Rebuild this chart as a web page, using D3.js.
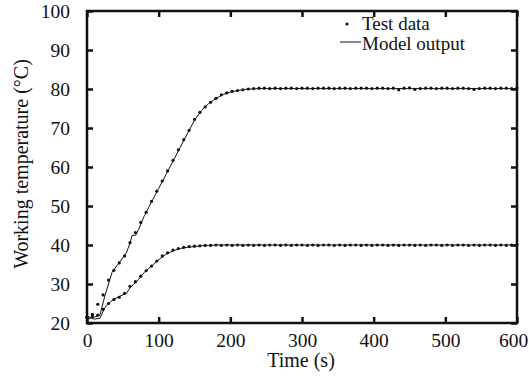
<!DOCTYPE html>
<html>
<head>
<meta charset="utf-8">
<script src="https://cdn.jsdelivr.net/npm/d3@7"></script>
<style>
  body { margin: 0; background: #fff; }
  svg text { font-family: 'Liberation Serif', serif !important; }
</style>
</head>
<body>
<svg id="chart" width="529" height="381"></svg>
<script>
const serif = `'Liberation Serif', serif`;

// sample times of the test data (s)
const testTime = [0, 7.5, 15, 22.5, 30, 37.5, 45, 52.5, 60, 67.5, 75, 82.5, 90, 97.5, 105, 112.5,
  120, 127.5, 135, 142.5, 150, 157.5, 165, 172.5, 180, 187.5, 195, 202.5, 210, 217.5, 225, 232.5,
  240, 247.5, 255, 262.5, 270, 277.5, 285, 292.5, 300, 307.5, 315, 322.5, 330, 337.5, 345, 352.5,
  360, 367.5, 375, 382.5, 390, 397.5, 405, 412.5, 420, 427.5, 435, 442.5, 450, 457.5, 465, 472.5,
  480, 487.5, 495, 502.5, 510, 517.5, 525, 532.5, 540, 547.5, 555, 562.5, 570, 577.5, 585, 592.5, 600];

const testHigh = [21.5, 22.2, 24.8, 27.2, 31.0, 33.5, 35.4, 37.2, 40.6, 43.2, 45.8, 48.4, 51.2, 53.8, 56.4, 59.0,
  61.7, 64.4, 67.0, 69.4, 72.2, 74.0, 75.4, 76.6, 77.6, 78.5, 79.0, 79.4, 79.6, 79.8, 80.0, 80.1,
  80.2, 80.2, 80.1, 80.2, 80.1, 80.2, 80.2, 80.1, 80.2, 80.2, 80.1, 80.2, 80.2, 80.2, 80.1, 80.2,
  80.2, 80.1, 80.2, 80.2, 80.2, 80.1, 80.2, 80.2, 80.1, 80.2, 79.8, 80.2, 80.3, 79.9, 80.1, 80.2,
  80.2, 80.1, 80.2, 80.2, 80.1, 80.2, 80.2, 80.1, 79.9, 80.1, 80.2, 80.2, 80.1, 80.2, 80.2, 80.1, 80.3];

const testLow = [21.5, 21.8, 22.0, 23.5, 25.0, 26.0, 26.6, 27.6, 29.4, 30.6, 32.0, 33.4, 34.6, 35.9, 37.2, 38.0,
  38.7, 39.1, 39.4, 39.6, 39.7, 39.8, 39.9, 39.9, 40.0, 39.9, 40.0, 39.9, 40.0, 39.9, 40.0, 39.9,
  40.0, 39.9, 40.0, 40.0, 39.9, 40.0, 39.9, 40.0, 40.0, 39.9, 40.0, 39.9, 40.0, 40.0, 39.9, 40.0,
  39.9, 40.0, 40.0, 39.9, 40.0, 39.9, 40.0, 40.0, 39.9, 40.0, 39.9, 40.0, 40.0, 39.9, 40.0, 39.9,
  40.0, 40.0, 39.9, 40.0, 39.9, 40.0, 40.0, 39.9, 40.0, 39.9, 40.0, 40.0, 39.9, 40.0, 39.9, 40.0, 40.1];

// model output
const modelTime = [0, 10, 18, 25, 35, 45, 55, 60, 63, 68, 72, 80, 90, 100, 110, 120, 130, 140, 150,
  160, 170, 180, 190, 200, 210, 220, 240, 300, 400, 500, 600];
const modelHigh = [21.0, 21.5, 22.0, 27.0, 33.0, 35.5, 38.0, 40.5, 42.5, 42.5, 44.0, 47.5, 51.0, 54.5, 58.0,
  61.5, 65.0, 68.5, 72.0, 74.5, 76.3, 77.6, 78.6, 79.2, 79.6, 79.9, 80.1, 80.1, 80.1, 80.1, 80.1];
const modelLow = [21.8, 21.0, 21.2, 24.0, 25.8, 26.8, 27.6, 29.0, 29.6, 30.4, 31.2, 33.0, 34.6, 36.2, 37.6,
  38.5, 39.1, 39.4, 39.6, 39.8, 39.9, 40.0, 40.0, 40.0, 40.0, 40.0, 40.0, 40.0, 40.0, 40.0, 40.0];

const xTicks = [0, 100, 200, 300, 400, 500, 600];
const yTicks = [20, 30, 40, 50, 60, 70, 80, 90, 100];

const svg = d3.select('#chart');
const plotL = 87, plotR = 517, plotT = 11, plotB = 323;

const x = d3.scaleLinear().domain([0, 600]).range([plotL, plotR]);
const y = d3.scaleLinear().domain([20, 100]).range([plotB, plotT]);

// model lines
const line = d3.line().x(d => x(d[0])).y(d => y(d[1]));
[modelHigh, modelLow].forEach(s => {
  svg.append('path')
    .datum(modelTime.map((t, i) => [t, s[i]]))
    .attr('d', line)
    .attr('fill', 'none')
    .attr('stroke', '#111')
    .attr('stroke-width', 1);
});

// test data points
[testHigh, testLow].forEach(s => {
  svg.append('g').selectAll('circle')
    .data(testTime.map((t, i) => [t, s[i]]))
    .enter().append('circle')
    .attr('cx', d => x(d[0]))
    .attr('cy', d => y(d[1]))
    .attr('r', 1.6)
    .attr('fill', '#111');
});

// axes, ticks inward on all sides
const axes = [
  {ax: d3.axisBottom(x).tickValues(xTicks).tickSize(-6).tickPadding(10), at: `translate(0,${plotB})`, labels: true},
  {ax: d3.axisTop(x).tickValues(xTicks).tickSize(-6), at: `translate(0,${plotT})`, labels: false},
  {ax: d3.axisLeft(y).tickValues(yTicks).tickSize(-6).tickPadding(17), at: `translate(${plotL},0)`, labels: true},
  {ax: d3.axisRight(y).tickValues(yTicks).tickSize(-6), at: `translate(${plotR},0)`, labels: false}
];
axes.forEach(a => {
  const g = svg.append('g').attr('transform', a.at).call(a.ax)
    .attr('font-family', serif).attr('font-size', 19.5);
  g.select('.domain').remove();
  g.selectAll('.tick line').attr('stroke', '#111').attr('stroke-width', 2.5);
  if (a.labels) {
    g.selectAll('.tick text').attr('fill', '#111');
  } else {
    g.selectAll('.tick text').remove();
  }
});
// last x label sits a bit left of its tick, as in the original
svg.selectAll('.tick text').filter(d => d === 600).attr('dx', -4);

// frame
svg.append('rect')
  .attr('x', plotL).attr('y', plotT)
  .attr('width', plotR - plotL).attr('height', plotB - plotT)
  .attr('fill', 'none').attr('stroke', '#111').attr('stroke-width', 2.5);

// axis titles
svg.append('text')
  .attr('x', 301).attr('y', 367)
  .attr('text-anchor', 'middle')
  .attr('font-family', serif).attr('font-size', 20).attr('fill', '#111')
  .text('Time (s)');

svg.append('text')
  .attr('transform', 'translate(28,164) rotate(-90)')
  .attr('text-anchor', 'middle')
  .attr('font-family', serif).attr('font-size', 20).attr('fill', '#111')
  .text('Working temperature (°C)');

// legend
const lg = svg.append('g').attr('font-family', serif).attr('font-size', 19);
lg.append('circle').attr('cx', 347).attr('cy', 24).attr('r', 1.6).attr('fill', '#111');
lg.append('text').attr('x', 362).attr('y', 30).attr('fill', '#111').text('Test data');
lg.append('line').attr('x1', 340).attr('x2', 361).attr('y1', 42).attr('y2', 42)
  .attr('stroke', '#111').attr('stroke-width', 1);
lg.append('text').attr('x', 362).attr('y', 50).attr('fill', '#111').text('Model output');
</script>
</body>
</html>
